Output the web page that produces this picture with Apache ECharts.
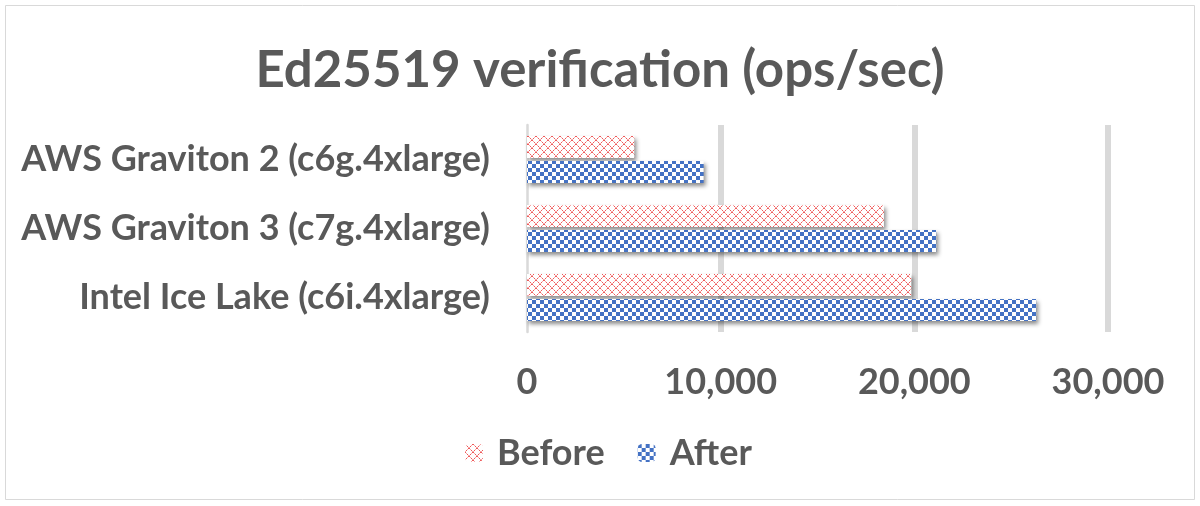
<!DOCTYPE html>
<html>
<head>
<meta charset="utf-8">
<script src="https://cdn.jsdelivr.net/npm/echarts@6/dist/echarts.min.js"></script>
<style>
html,body{margin:0;padding:0;background:#fff;}
#main{width:1200px;height:506px;}
</style>
</head>
<body>
<div id="main"></div>
<script>
const titleText = 'Ed25519 verification (ops/sec)';
const categories = ['AWS Graviton 2 (c6g.4xlarge)', 'AWS Graviton 3 (c7g.4xlarge)', 'Intel Ice Lake (c6i.4xlarge)'];
const seriesNames = ['Before', 'After'];
const beforeValues = [5540, 18430, 19840];
const afterValues = [9120, 21130, 26290];
const xTicks = [0, 10000, 20000, 30000];

function makeCrossPattern() {
  const c = document.createElement('canvas');
  c.width = 8; c.height = 8;
  const g = c.getContext('2d');
  g.fillStyle = '#ffffff';
  g.fillRect(0, 0, 8, 8);
  for (let i = 0; i < 8; i++) {
    g.fillStyle = (i % 2 === 0) ? '#ee5a5a' : '#f7a8a8';
    g.fillRect(i, i, 1, 1);
    g.fillRect(7 - i, i, 1, 1);
  }
  return c;
}
function makeCheckPattern() {
  const c = document.createElement('canvas');
  c.width = 8; c.height = 8;
  const g = c.getContext('2d');
  g.fillStyle = '#ffffff';
  g.fillRect(0, 0, 8, 8);
  g.fillStyle = '#4472c4';
  g.fillRect(0, 0, 4, 4);
  g.fillRect(4, 4, 4, 4);
  return c;
}
const patBefore = { image: makeCrossPattern(), repeat: 'repeat' };
const patAfter = { image: makeCheckPattern(), repeat: 'repeat' };

const FONT = 'Lato';
const chart = echarts.init(document.getElementById('main'));
const barStyle = (pat) => ({
  color: pat,
  shadowBlur: 4,
  shadowColor: 'rgba(0,0,0,0.45)',
  shadowOffsetX: 2,
  shadowOffsetY: 3
});
chart.setOption({
  backgroundColor: '#ffffff',
  animation: false,
  title: {
    text: titleText,
    left: 'center',
    top: 40,
    textStyle: { fontFamily: FONT, fontWeight: 'bold', fontSize: 51, color: '#595959' }
  },
  legend: {
    data: seriesNames,
    top: 430,
    left: 460,
    itemWidth: 18,
    itemHeight: 18,
    itemGap: 33,
    itemStyle: { shadowBlur: 0, shadowOffsetX: 0, shadowOffsetY: 0 },
    textStyle: { fontFamily: FONT, fontWeight: 'bold', fontSize: 36, color: '#595959', padding: [0, 0, 0, 9] }
  },
  grid: { left: 527, right: 92, top: 125, bottom: 174, containLabel: false },
  xAxis: {
    type: 'value',
    min: xTicks[0],
    max: xTicks[xTicks.length - 1],
    interval: xTicks[1] - xTicks[0],
    axisLine: { show: false },
    axisTick: { show: false },
    axisLabel: {
      margin: 32,
      fontFamily: FONT, fontWeight: 'bold', fontSize: 36, color: '#595959',
      formatter: (v) => v.toLocaleString('en-US')
    },
    splitLine: { show: true, lineStyle: { color: ['rgba(0,0,0,0)', '#d9d9d9', '#d9d9d9', '#d9d9d9'], width: 6 } }
  },
  yAxis: {
    type: 'category',
    data: categories,
    inverse: true,
    axisLine: { show: true, lineStyle: { color: '#d9d9d9', width: 2.5 } },
    axisTick: { show: false },
    axisLabel: { margin: 37, fontFamily: FONT, fontWeight: 'bold', fontSize: 36, color: '#595959' }
  },
  series: [
    { name: seriesNames[0], type: 'bar', data: beforeValues, barWidth: 22, barGap: '14%', itemStyle: barStyle(patBefore) },
    { name: seriesNames[1], type: 'bar', data: afterValues, barWidth: 22, barGap: '14%', itemStyle: barStyle(patAfter) }
  ],
  graphic: [{
    type: 'rect', shape: { x: 5.5, y: 5.5, width: 1189, height: 494 },
    style: { fill: 'none', stroke: '#d9d9d9', lineWidth: 1 }, silent: true, z: 100
  }]
});
</script>
</body>
</html>
